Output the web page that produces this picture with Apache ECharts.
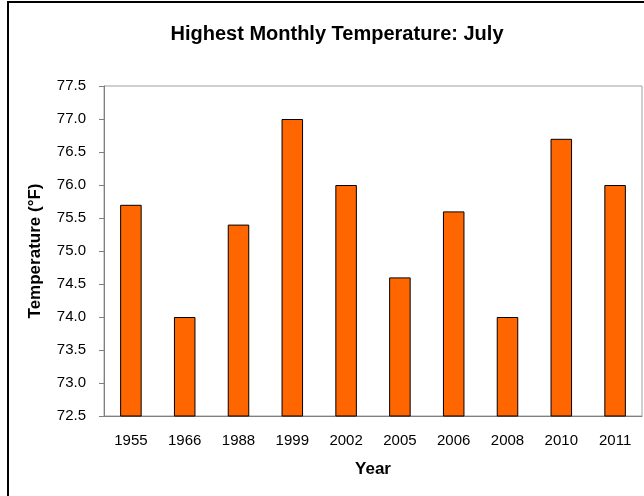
<!DOCTYPE html>
<html>
<head>
<meta charset="utf-8">
<script src="https://cdn.jsdelivr.net/npm/echarts@6/dist/echarts.min.js"></script>
<style>
  html, body { margin: 0; padding: 0; background: #fff; }
  #chart { width: 644px; height: 496px; }
</style>
</head>
<body>
<div id="chart"></div>
<script>
// chart data
var years = ['1955', '1966', '1988', '1999', '2002', '2005', '2006', '2008', '2010', '2011'];
var temps = [75.7, 74.0, 75.4, 77.0, 76.0, 74.6, 75.6, 74.0, 76.7, 76.0];

var myChart = echarts.init(document.getElementById('chart'));

var option = {
    animation: false,
    backgroundColor: '#fff',
    textStyle: { fontFamily: 'Liberation Sans, Arial, sans-serif' },
    title: {
        text: 'Highest Monthly Temperature: July',
        left: 332,
        top: 19,
        textAlign: 'center',
        textStyle: { fontSize: 20, fontWeight: 'bold', color: '#000' }
    },
    graphic: [{
        type: 'rect',
        shape: { x: 8, y: 2, width: 700, height: 600 },
        style: { fill: 'none', stroke: '#000', lineWidth: 2 },
        silent: true
    }],
    grid: {
        left: 104, right: 2, top: 86, bottom: 80,
        show: true, borderColor: '#a0a0a0', borderWidth: 1
    },
    xAxis: {
        type: 'category',
        data: years,
        name: 'Year',
        nameLocation: 'middle',
        nameGap: 45,
        nameTextStyle: { fontSize: 17, fontWeight: 'bold', color: '#000' },
        axisLine: { lineStyle: { color: '#808080' } },
        axisTick: { length: 5, lineStyle: { color: '#808080' } },
        axisLabel: { fontSize: 15, color: '#000', margin: 17 }
    },
    yAxis: {
        type: 'value',
        min: 72.5,
        max: 77.5,
        interval: 0.5,
        name: 'Temperature (°F)',
        nameLocation: 'middle',
        nameGap: 60,
        nameTextStyle: { fontSize: 17, fontWeight: 'bold', color: '#000' },
        axisLine: { show: true, lineStyle: { color: '#808080' } },
        axisTick: { show: true, length: 5, lineStyle: { color: '#808080' } },
        splitLine: { show: false },
        axisLabel: {
            fontSize: 15, color: '#000', margin: 18,
            formatter: function (v) { return v.toFixed(1); }
        }
    },
    series: [{
        type: 'bar',
        data: temps,
        barWidth: '40%',
        itemStyle: { color: '#ff6600', borderColor: '#000', borderWidth: 1 }
    }]
};
myChart.setOption(option);
</script>
</body>
</html>
